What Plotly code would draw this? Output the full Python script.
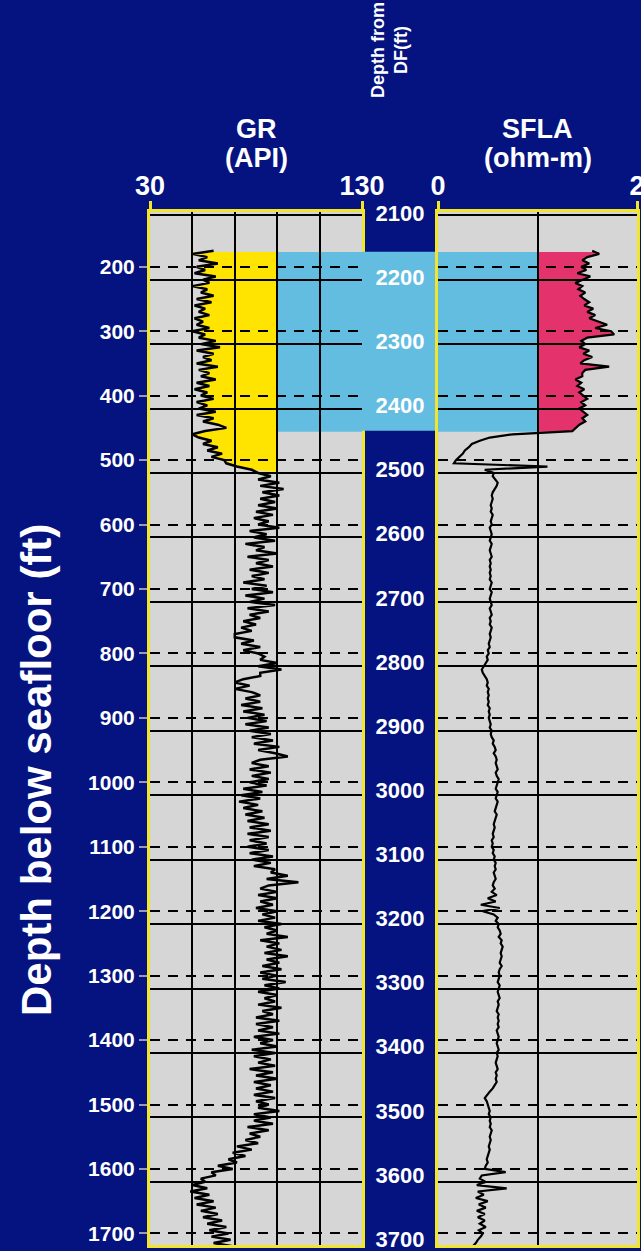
import numpy as np
import plotly.graph_objects as go

# ---------------- data ----------------
DEPTH = np.arange(175, 1721, 5)          # depth below seafloor (ft), 5 ft sampling

GR = [
    60, 50, 57, 53, 62, 52, 56, 51, 61, 55, 58, 50, 57, 54, 60, 52, 59, 51, 56, 53,          # 175-270
    58, 51, 55, 52, 58, 50, 56, 53, 61, 54, 63, 52, 60, 55, 59, 52, 62, 53, 58, 54,          # 275-370
    61, 52, 58, 51, 57, 54, 60, 52, 57, 53, 61, 52, 60, 55, 62, 66, 56, 50, 53, 59,          # 375-470
    55, 62, 57, 64, 59, 65, 66, 71, 78, 81, 87, 81, 91, 82, 93, 83, 91, 82, 89, 81,          # 475-570
    90, 80, 88, 79, 86, 81, 91, 77, 85, 79, 89, 75, 84, 80, 90, 76, 86, 80, 88, 77,          # 575-670
    86, 78, 84, 74, 85, 78, 88, 75, 84, 77, 89, 76, 86, 77, 82, 74, 80, 73, 78, 70,          # 675-770
    70, 79, 73, 82, 74, 81, 84, 82, 90, 81, 92, 82, 82, 74, 70, 77, 70, 78, 82, 75,          # 775-870
    82, 73, 83, 74, 84, 76, 85, 75, 86, 77, 87, 78, 88, 79, 91, 81, 89, 95, 82, 78,          # 875-970
    86, 77, 87, 78, 86, 77, 85, 74, 83, 73, 82, 72, 81, 74, 83, 75, 84, 76, 86, 77,          # 975-1070
    87, 76, 86, 77, 85, 76, 86, 77, 88, 78, 87, 79, 89, 87, 95, 85, 100, 86, 82, 90,         # 1075-1170
    81, 90, 82, 88, 80, 90, 83, 89, 81, 92, 84, 90, 85, 95, 82, 91, 85, 92, 84, 95,          # 1175-1270
    85, 91, 83, 92, 82, 90, 83, 94, 84, 91, 81, 90, 84, 89, 81, 92, 83, 88, 80, 91,          # 1275-1370
    80, 88, 81, 91, 79, 88, 82, 90, 78, 89, 79, 87, 81, 89, 77, 88, 80, 90, 79, 87,          # 1375-1470
    80, 88, 79, 89, 80, 86, 81, 91, 79, 87, 79, 88, 76, 86, 77, 82, 75, 81, 71, 78,          # 1475-1570
    69, 75, 67, 71, 62, 69, 59, 61, 54, 56, 50, 57, 49, 58, 51, 60, 52, 61, 54, 62,          # 1575-1670
    55, 64, 57, 66, 58, 67, 59, 68, 60, 69,                                                  # 1675-1720
]

SFLA = [
    1.55, 1.62, 1.50, 1.45, 1.52, 1.44, 1.49, 1.40, 1.53, 1.46, 1.38, 1.45, 1.41, 1.48, 1.43, 1.47, 1.52, 1.47, 1.56, 1.50,
    1.58, 1.52, 1.62, 1.70, 1.58, 1.74, 1.77, 1.50, 1.44, 1.48, 1.42, 1.52, 1.46, 1.55, 1.47, 1.43, 1.72, 1.48, 1.45, 1.45,
    1.38, 1.44, 1.40, 1.47, 1.42, 1.46, 1.50, 1.44, 1.48, 1.42, 1.46, 1.50, 1.45, 1.48, 1.42, 1.38, 1.35, 0.75, 0.52, 0.42,
    0.34, 0.31, 0.27, 0.25, 0.21, 0.18, 0.16, 1.10, 0.47, 0.56, 0.55, 0.58, 0.60, 0.59, 0.57, 0.55, 0.54, 0.55, 0.54, 0.53,
    0.54, 0.53, 0.55, 0.54, 0.53, 0.54, 0.52, 0.53, 0.54, 0.53, 0.52, 0.54, 0.53, 0.52, 0.53, 0.54, 0.52, 0.53, 0.52, 0.53,
    0.52, 0.53, 0.52, 0.54, 0.53, 0.52, 0.54, 0.53, 0.52, 0.53, 0.54, 0.52, 0.53, 0.54, 0.52, 0.53, 0.52, 0.54, 0.53, 0.52,
    0.53, 0.52, 0.51, 0.52, 0.50, 0.51, 0.49, 0.50, 0.48, 0.46, 0.44, 0.45, 0.47, 0.49, 0.50, 0.49, 0.51, 0.50, 0.51, 0.50,
    0.51, 0.50, 0.52, 0.51, 0.52, 0.51, 0.52, 0.53, 0.52, 0.54, 0.53, 0.54, 0.56, 0.55, 0.57, 0.58, 0.56, 0.58, 0.59, 0.58,
    0.59, 0.60, 0.58, 0.59, 0.61, 0.60, 0.59, 0.58, 0.60, 0.59, 0.58, 0.60, 0.59, 0.58, 0.57, 0.59, 0.58, 0.57, 0.56, 0.57,
    0.56, 0.55, 0.56, 0.54, 0.55, 0.54, 0.56, 0.55, 0.57, 0.56, 0.58, 0.57, 0.58, 0.56, 0.57, 0.58, 0.56, 0.55, 0.57, 0.54,
    0.59, 0.50, 0.58, 0.43, 0.62, 0.45, 0.56, 0.60, 0.58, 0.61, 0.60, 0.62, 0.63, 0.61, 0.64, 0.63, 0.65, 0.64, 0.63, 0.64,
    0.63, 0.62, 0.64, 0.62, 0.61, 0.62, 0.61, 0.60, 0.62, 0.61, 0.60, 0.61, 0.62, 0.60, 0.61, 0.60, 0.59, 0.61, 0.60, 0.61,
    0.60, 0.61, 0.59, 0.60, 0.61, 0.60, 0.59, 0.60, 0.61, 0.59, 0.60, 0.59, 0.58, 0.59, 0.60, 0.58, 0.59, 0.58, 0.59, 0.57,
    0.55, 0.52, 0.49, 0.47, 0.49, 0.50, 0.51, 0.52, 0.51, 0.53, 0.52, 0.53, 0.52, 0.54, 0.53, 0.52, 0.53, 0.52, 0.51, 0.52,
    0.51, 0.50, 0.49, 0.50, 0.48, 0.47, 0.68, 0.44, 0.42, 0.48, 0.39, 0.69, 0.40, 0.46, 0.38, 0.50, 0.41, 0.48, 0.39, 0.47,
    0.40, 0.47, 0.42, 0.48, 0.41, 0.45, 0.43, 0.40, 0.38, 0.35,
]

DF_OFFSET = 1980                      # DF depth = seafloor depth + offset (ft)
SF_TICKS = list(range(200, 1701, 100))
DF_TICKS = list(range(2100, 3701, 100))
HYD_TOP, HYD_BASE = 177, 456          # hydrate zone (blue / pink)
YELLOW_BASE = 519                     # base of low-GR (yellow) interval
GR_CUT, SFLA_CUT = 90, 1.0
GR_RANGE, SFLA_RANGE = [30, 130], [0, 2]
GR_LABELS, SFLA_LABELS = [30, 130], [0, 2]
GR_GRID, SFLA_GRID = [50, 70, 90, 110], [1]
Y_RANGE = [1718, 115]
MID_RANGE = [3715, 2095]              # DF-depth scale of the label column

# ---------------- style ----------------
NAVY = "#04137f"
TRACK = "#d6d6d6"
YEL_LINE = "#f2e62a"
YEL_FILL = "#ffe400"
BLUE = "#63bde0"
PINK = "#e4336c"
FONT = "Liberation Sans, Arial, sans-serif"
W, H = 641, 1251
TOP_PX, BOT_PX = 212, 1245

def px_x(p):
    return p / W

def px_y(p):
    return 1 - p / H

gr_dom = [px_x(150), px_x(362)]
mid_dom = [px_x(362), px_x(438)]
sf_dom = [px_x(438), px_x(637)]
y_dom = [px_y(BOT_PX), px_y(TOP_PX)]
mid_y_dom = [0, px_y(TOP_PX)]

depth = np.asarray(DEPTH)
gr = np.asarray(GR, dtype=float)
sfla = np.asarray(SFLA, dtype=float)

fig = go.Figure()

fig.add_trace(go.Scatter(x=gr, y=depth, mode="lines", xaxis="x", yaxis="y",
                         line=dict(color="black", width=2.5), showlegend=False))
fig.add_trace(go.Scatter(x=[None], y=[None], xaxis="x", yaxis="y2", showlegend=False))
fig.add_trace(go.Scatter(x=sfla, y=depth, mode="lines", xaxis="x3", yaxis="y3",
                         line=dict(color="black", width=2.2), showlegend=False))
fig.add_trace(go.Scatter(x=[None], y=[None], xaxis="x3", yaxis="y4", showlegend=False))
fig.add_trace(go.Scatter(x=[0.5] * len(DF_TICKS), y=DF_TICKS,
                         text=[str(d) for d in DF_TICKS], mode="text", xaxis="x2", yaxis="y5",
                         textfont=dict(family=FONT, size=22, color="white", weight="bold"),
                         cliponaxis=False, showlegend=False))

# shapes (below gridlines)
shapes = []
for xr, yr in (("x", "y"), ("x3", "y3")):
    shapes.append(dict(type="rect", xref=f"{xr} domain", yref=f"{yr} domain", x0=0, x1=1, y0=0, y1=1,
                       fillcolor=TRACK, line=dict(width=0), layer="below"))
shapes.append(dict(type="rect", xref="x", yref="y", x0=GR_CUT, x1=GR_RANGE[1], y0=HYD_TOP, y1=HYD_BASE,
                   fillcolor=BLUE, line=dict(width=0), layer="below"))
shapes.append(dict(type="rect", xref="x2", yref="y5", x0=0, x1=1,
                   y0=HYD_TOP + DF_OFFSET, y1=HYD_BASE + DF_OFFSET,
                   fillcolor=BLUE, line=dict(width=0), layer="below"))
shapes.append(dict(type="rect", xref="x3", yref="y3", x0=SFLA_RANGE[0], x1=SFLA_CUT, y0=HYD_TOP, y1=HYD_BASE,
                   fillcolor=BLUE, line=dict(width=0), layer="below"))

m = (depth >= HYD_TOP) & (depth <= YELLOW_BASE)
pts = [f"L{v},{d}" for v, d in zip(gr[m], depth[m])]
path = f"M{GR_CUT},{HYD_TOP} L{gr[m][0]},{HYD_TOP} " + " ".join(pts) + f" L{GR_CUT},{YELLOW_BASE} Z"
shapes.append(dict(type="path", xref="x", yref="y", path=path, fillcolor=YEL_FILL,
                   line=dict(width=0), layer="below"))

m2 = (depth >= HYD_TOP) & (depth <= HYD_BASE)
pts2 = [f"L{v},{d}" for v, d in zip(sfla[m2], depth[m2])]
path2 = f"M{SFLA_CUT},{HYD_TOP} L{sfla[m2][0]},{HYD_TOP} " + " ".join(pts2) + f" L{sfla[m2][-1]},{HYD_BASE} L{SFLA_CUT},{HYD_BASE} Z"
shapes.append(dict(type="path", xref="x3", yref="y3", path=path2, fillcolor=PINK,
                   line=dict(width=0), layer="below"))

tickfont_top = dict(family=FONT, size=27, color="white", weight="bold")

def track_x(dom, rng, labels, grid, anchor):
    return dict(domain=dom, range=rng, side="top", anchor=anchor, automargin=False,
                tickmode="array", tickvals=labels, ticktext=[str(v) for v in labels],
                ticks="outside", ticklen=8, tickwidth=3, tickcolor=YEL_LINE,
                ticklabelstandoff=-5, ticklabeloverflow="allow",
                tickfont=tickfont_top, showgrid=False, zeroline=False,
                showline=True, linecolor=YEL_LINE, linewidth=3, mirror=True,
                minor=dict(tickmode="array", tickvals=grid, showgrid=True,
                           gridcolor="black", gridwidth=1.5, ticks=""))

def sf_y(anchor, labels):
    return dict(domain=y_dom, range=Y_RANGE, anchor=anchor, automargin=False,
                tickmode="array", tickvals=SF_TICKS,
                ticktext=[str(v) for v in SF_TICKS], showticklabels=labels,
                ticks="outside" if labels else "", ticklen=8, tickwidth=2, tickcolor="#9a9ab8",
                tickfont=dict(family=FONT, size=21, color="white", weight="bold"),
                showgrid=True, gridcolor="black", gridwidth=2, griddash="10px,8px",
                zeroline=False, showline=True, linecolor=YEL_LINE, linewidth=3, mirror=True)

def df_y(anchor, over):
    return dict(domain=y_dom, range=[Y_RANGE[0] + DF_OFFSET, Y_RANGE[1] + DF_OFFSET],
                anchor=anchor, overlaying=over, automargin=False,
                tickmode="array", tickvals=DF_TICKS,
                showticklabels=False, ticks="", showgrid=True, gridcolor="black", gridwidth=2,
                zeroline=False, showline=False)

fig.update_layout(
    width=W, height=H, margin=dict(l=0, r=0, t=0, b=0, pad=0), autosize=False,
    paper_bgcolor=NAVY, plot_bgcolor=NAVY,
    xaxis=track_x(gr_dom, GR_RANGE, GR_LABELS, GR_GRID, "y"),
    xaxis3=track_x(sf_dom, SFLA_RANGE, SFLA_LABELS, SFLA_GRID, "y3"),
    xaxis2=dict(domain=mid_dom, range=[0, 1], anchor="y5", visible=False, automargin=False),
    yaxis=sf_y("x", True),
    yaxis3=sf_y("x3", False),
    yaxis2=df_y("x", "y"),
    yaxis4=df_y("x3", "y3"),
    yaxis5=dict(domain=mid_y_dom, range=MID_RANGE, anchor="x2", visible=False, automargin=False),
    shapes=shapes,
    showlegend=False,
)

white = dict(family=FONT, color="white", weight="bold")
ann = []
gr_c = (gr_dom[0] + gr_dom[1]) / 2
sf_c = (sf_dom[0] + sf_dom[1]) / 2
for xc, t1, t2 in ((gr_c, "GR", "(API)"), (sf_c, "SFLA", "(ohm-m)")):
    ann.append(dict(x=xc, y=px_y(129), xref="paper", yref="paper", text=t1, showarrow=False,
                    font=dict(size=27, **white), xanchor="center", yanchor="middle"))
    ann.append(dict(x=xc, y=px_y(158), xref="paper", yref="paper", text=t2, showarrow=False,
                    font=dict(size=27, **white), xanchor="center", yanchor="middle"))
ann.append(dict(x=px_x(389), y=px_y(50), xref="paper", yref="paper", text="Depth from<br>DF(ft)",
                showarrow=False, textangle=-90, font=dict(size=18, **white),
                xanchor="center", yanchor="middle"))
ann.append(dict(x=px_x(36), y=px_y(770), xref="paper", yref="paper", text="Depth below seafloor (ft)",
                showarrow=False, textangle=-90, font=dict(size=42, **white),
                xanchor="center", yanchor="middle"))
fig.update_layout(annotations=ann)

fig.write_html("out.html", config={"displayModeBar": False},
               post_script="document.body.style.margin='0';document.body.style.overflow='hidden';")
